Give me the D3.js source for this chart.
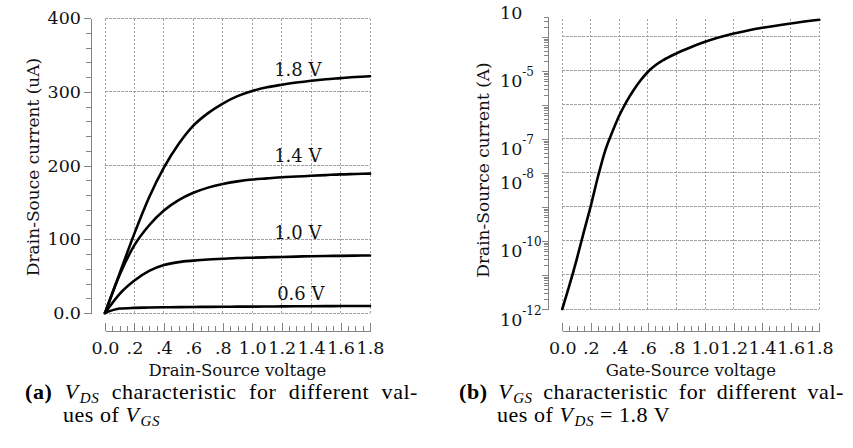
<!DOCTYPE html>
<html><head><meta charset="utf-8">
<script src="https://cdn.jsdelivr.net/npm/d3@7"></script>
<style>
body{margin:0;background:#fff;}
svg{display:block;}
text{font-family:"DejaVu Serif",serif;fill:#111;}
.tick text{font-size:17.5px;}
.ylab text{font-size:17.5px;}
.cap{font-family:"Liberation Serif",serif;font-size:22px;fill:#000;letter-spacing:0.55px;}
</style></head><body>
<svg id="c" width="853" height="448"></svg>
<script>
// ---------- data ----------
const vds = [0,0.1,0.2,0.3,0.4,0.5,0.6,0.7,0.8,0.9,1.0,1.1,1.2,1.3,1.4,1.5,1.6,1.7,1.8];
const ids18 = [0,54,108,157,197,229,254,271,284,294,301,306,309.5,312.5,315,317,318.5,320,321];
const ids14 = [0,52,92,119,139,153,163,170,175,178.5,181,182.5,184,185,186,187,188,188.5,189];
const ids10 = [0,26,44,57,65,69,71,72.5,73.5,74.5,75,75.5,76,76.5,77,77.3,77.5,77.8,78];
const ids06 = [0,6,7,7.4,7.8,8,8.2,8.3,8.4,8.6,8.7,8.8,9,9.1,9.2,9.3,9.4,9.45,9.5];
const seriesNames = ["1.8 V","1.4 V","1.0 V","0.6 V"];

const vgs = [0,0.05,0.1,0.15,0.2,0.25,0.3,0.35,0.4,0.45,0.5,0.55,0.6,0.65,0.7,0.8,0.9,1.0,1.1,1.2,1.3,1.4,1.6,1.8];
const idsGate = [1e-12,5.0e-12,2.8e-11,1.8e-10,1.1e-9,7.9e-9,4.5e-8,1.6e-7,5.0e-7,1.26e-6,2.75e-6,5.4e-6,9.5e-6,1.45e-5,2.0e-5,3.3e-5,5.0e-5,7.2e-5,9.8e-5,1.26e-4,1.55e-4,1.86e-4,2.5e-4,3.2e-4];

const xTicks = [0,0.2,0.4,0.6,0.8,1.0,1.2,1.4,1.6,1.8];
const xTickLabels = ["0.0",".2",".4",".6",".8","1.0","1.2","1.4","1.6","1.8"];
const yTicksL = [0,100,200,300,400];
const yTickLabelsL = ["0.0","100","200","300","400"];
const yTicksR = [1e-3,1e-5,1e-7,1e-8,1e-10,1e-12];
const yTickBaseR = ["10","10","10","10","10","10"];
const yTickExpR = ["","-5","-7","-8","-10","-12"];
const decadesR = [1e-12,1e-11,1e-10,1e-9,1e-8,1e-7,1e-6,1e-5,1e-4];

// ---------- layout ----------
const svg = d3.select("#c");
const AX = "#858585", GRID = "#a0a0a0";
const xAxisY = 331;

const xL = d3.scaleLinear().domain([0,1.8]).range([105,370]);
const yL = d3.scaleLinear().domain([0,400]).range([313,18]);
const xR = d3.scaleLinear().domain([0,1.8]).range([562.3,819.3]);
const yR = d3.scaleLog().domain([1e-12,4e-4]).range([309,16.5]);

function styleAxis(g){
  g.attr("font-family",null).attr("font-size",null).attr("color",AX);
  g.selectAll("path,line").attr("stroke",AX).attr("stroke-width",1).attr("shape-rendering","crispEdges");
}

function grid(xs, ys, xVals, yVals){
  const g = svg.append("g").attr("stroke",GRID).attr("stroke-width",1).attr("stroke-dasharray","2.5,1.5").attr("shape-rendering","crispEdges");
  const [y0,y1] = ys.range();
  const [x0,x1] = xs.range();
  g.selectAll(".v").data(xVals).join("line").attr("x1",d=>xs(d)).attr("x2",d=>xs(d)).attr("y1",y0).attr("y2",y1);
  g.selectAll(".h").data(yVals).join("line").attr("x1",x0).attr("x2",x1).attr("y1",d=>ys(d)).attr("y2",d=>ys(d));
}

function xAxis(xs){
  svg.append("g").attr("transform",`translate(0,${xAxisY})`)
    .call(d3.axisBottom(xs).tickValues(d3.range(0,1.8001,0.05)).tickSizeInner(-5.5).tickSizeOuter(0).tickFormat(""))
    .call(styleAxis);
  svg.append("g").attr("transform",`translate(0,${xAxisY})`)
    .call(d3.axisBottom(xs).tickValues(xTicks).tickSizeInner(-8).tickSizeOuter(0).tickPadding(10.5).tickFormat((d,i)=>xTickLabels[i]))
    .call(styleAxis);
}

// ---------- left chart ----------
grid(xL, yL, xTicks, yTicksL);
xAxis(xL);
svg.append("g").attr("transform","translate(91,0)")
  .call(d3.axisLeft(yL).tickValues(d3.range(0,401,20)).tickSize(5).tickSizeOuter(0).tickFormat(""))
  .call(styleAxis);
svg.append("g").attr("class","ylab").attr("transform","translate(91,0)")
  .call(d3.axisLeft(yL).tickValues(yTicksL).tickSize(7).tickSizeOuter(0).tickPadding(3).tickFormat((d,i)=>yTickLabelsL[i]))
  .call(styleAxis);

const lineL = d3.line().x(d=>xL(d[0])).y(d=>yL(d[1])).curve(d3.curveMonotoneX);
[ids18,ids14,ids10,ids06].forEach(s=>{
  svg.append("path").attr("d",lineL(vds.map((v,i)=>[v,s[i]])))
    .attr("fill","none").attr("stroke","#000").attr("stroke-width",2.6).attr("stroke-linecap","round");
});
// series annotations (data coordinates)
const annot = [[1.31,330],[1.31,214],[1.31,108.5],[1.33,27]];
seriesNames.forEach((n,i)=>{
  svg.append("text").attr("x",xL(annot[i][0])).attr("y",yL(annot[i][1])).attr("dy","0.36em")
    .attr("text-anchor","middle").style("font-size","18px").text(n);
});

svg.append("text").attr("x",xL(0.9)).attr("y",376).attr("text-anchor","middle").style("font-size","16.5px").text("Drain-Source voltage");
svg.append("text").attr("transform","translate(39,167) rotate(-90)").attr("text-anchor","middle").style("font-size","17px").text("Drain-Souce current (uA)");

// ---------- right chart ----------
grid(xR, yR, xTicks, decadesR);
xAxis(xR);
const minorR = [];
decadesR.forEach(d=>{ for(let k=2;k<=9;k++){ const v=d*k; if(v<=4e-4) minorR.push(v);} });
svg.append("g").attr("transform","translate(548,0)")
  .call(d3.axisLeft(yR).tickValues(minorR).tickSize(4).tickSizeOuter(0).tickFormat(""))
  .call(styleAxis);
svg.append("g").attr("transform","translate(548,0)")
  .call(d3.axisLeft(yR).tickValues(decadesR).tickSize(6).tickSizeOuter(0).tickFormat(""))
  .call(styleAxis);
yTicksR.forEach((v,i)=>{
  const t = svg.append("text").attr("x",500).attr("y",yR(v)+16.5).style("font-size","17.5px");
  t.append("tspan").text(yTickBaseR[i]);
  if(yTickExpR[i]) t.append("tspan").attr("dy",-11).style("font-size","12px").text(yTickExpR[i]);
});

const lineR = d3.line().x(d=>xR(d[0])).y(d=>yR(d[1])).curve(d3.curveMonotoneX);
svg.append("path").attr("d",lineR(vgs.map((v,i)=>[v,idsGate[i]])))
  .attr("fill","none").attr("stroke","#000").attr("stroke-width",2.6).attr("stroke-linecap","round");

svg.append("text").attr("x",xR(0.9)).attr("y",376).attr("text-anchor","middle").style("font-size","16.5px").text("Gate-Source voltage");
svg.append("text").attr("transform","translate(489,170) rotate(-90)").attr("text-anchor","middle").style("font-size","17px").text("Drain-Source current (A)");

// ---------- captions (line 1 justified like LaTeX) ----------
function caption(x, y, label, sub1, line2sub, tail2, indent, fullWidth){
  const t1 = svg.append("text").attr("class","cap").attr("x",x).attr("y",y);
  t1.append("tspan").style("font-weight","bold").text(label);
  t1.append("tspan").text(" ");
  t1.append("tspan").style("font-style","italic").text("V");
  t1.append("tspan").attr("dx",1).attr("dy",4).style("font-size","15px").style("font-style","italic").text(sub1);
  t1.append("tspan").attr("dy",-4).text(" characteristic for different val-");
  const w = t1.node().getComputedTextLength();
  const nSpaces = 5;
  t1.style("word-spacing", Math.max(0,(fullWidth - w)/nSpaces) + "px");
  const t2 = svg.append("text").attr("class","cap").attr("x",x+indent).attr("y",y+23);
  t2.append("tspan").text("ues of ");
  t2.append("tspan").style("font-style","italic").text("V");
  t2.append("tspan").attr("dx",1).attr("dy",4).style("font-size","15px").style("font-style","italic").text(line2sub);
  if(tail2) t2.append("tspan").attr("dy",-4).text(tail2);
}
caption(25, 399, "(a)", "DS", "GS", "", 38, 392);
caption(459, 399, "(b)", "GS", "DS", " = 1.8 V", 38, 384);
</script>
</body></html>
